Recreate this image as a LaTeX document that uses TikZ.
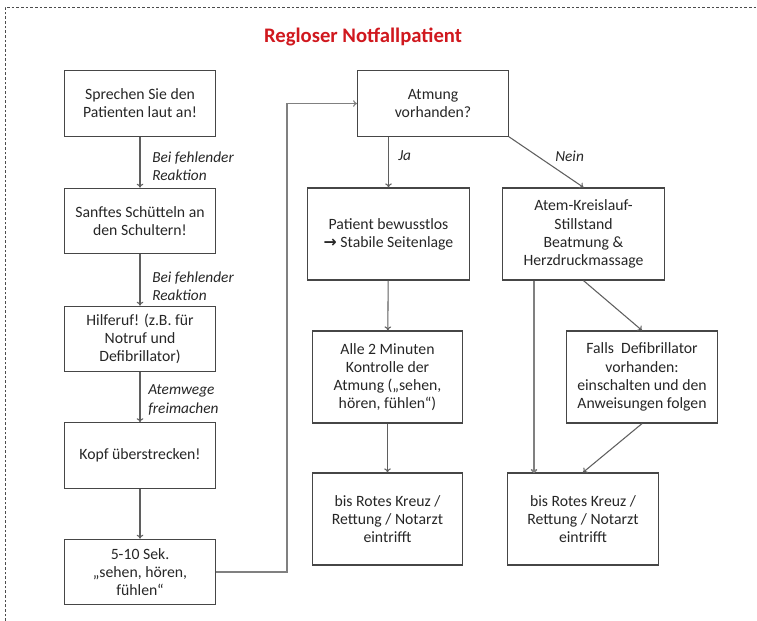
\documentclass[tikz,border=0pt]{standalone}
\usepackage{fontspec}
\setmainfont{Carlito}
\newfontfamily\arrowfont{DejaVu Sans}
\usetikzlibrary{arrows.meta}
\definecolor{titlered}{RGB}{208,24,30}
\definecolor{boxgray}{RGB}{70,70,70}
\definecolor{linegray}{RGB}{95,95,95}

\begin{document}
\begin{tikzpicture}[x=0.75pt,y=-0.75pt,
  box/.style={draw=boxgray,line width=0.9pt,align=center,inner sep=2pt,text=black!85,
    font=\fontsize{11.8}{13.6}\selectfont},
  smallbox/.style={box,minimum width=113pt,minimum height=49pt},
  bigbox/.style={box,minimum width=113pt,minimum height=69pt},
  widebox/.style={box,minimum width=122pt,minimum height=69pt},
  lbl/.style={font=\fontsize{11.5}{13.6}\selectfont\itshape,text=black!85,align=left,anchor=west,inner sep=0pt},
  arr/.style={draw=linegray,line width=0.8pt,-{To[length=3pt,width=5pt]}}]
\useasboundingbox (0,0) rectangle (757,621);
\draw[black!70,line width=0.6pt,dash pattern=on 2pt off 1.5pt] (5,621) -- (5,7) -- (757,7);

\node[font=\fontsize{15.5}{18}\selectfont\bfseries,text=titlered] (title) at (363,37) {Regloser Notfallpatient};

% linke Spalte
\node[smallbox] (A) at (140,103.5) {Sprechen Sie den\\Patienten laut an!};
\node[smallbox] (B) at (140,221) {Sanftes Schütteln an\\den Schultern!};
\node[smallbox] (C) at (140,339) {Hilferuf! (z.B. für\\Notruf und\\Defibrillator)};
\node[smallbox] (D) at (140,455.5) {Kopf überstrecken!};
\node[smallbox] (E) at (140,572) {5-10 Sek.\\„sehen, hören,\\fühlen“};

\draw[arr] (A) -- (B);
\draw[arr] (B) -- (C);
\draw[arr] (C) -- (D);
\draw[arr] (D) -- (E);
\node[lbl] (l1) at (152,166) {Bei fehlender\\Reaktion};
\node[lbl] (l2) at (152,286) {Bei fehlender\\Reaktion};
\node[lbl] (l3) at (148,400) {Atemwege\\freimachen};

% rechter Teil
\node[smallbox] (F) at (433,103.5) {Atmung\\vorhanden?};
\node[widebox] (G) at (388.5,234) {Patient bewusstlos\\{\arrowfont\bfseries →} Stabile Seitenlage};
\node[widebox] (H) at (583.5,234) {Atem-Kreislauf-\\Stillstand\\Beatmung \&\\Herzdruckmassage};
\node[bigbox] (I) at (387.5,377) {Alle 2 Minuten\\Kontrolle der\\Atmung („sehen,\\hören, fühlen“)};
\node[bigbox] (J) at (387.5,519) {bis Rotes Kreuz /\\Rettung / Notarzt\\eintrifft};
\node[bigbox] (K) at (642,377) {Falls~ Defibrillator\\vorhanden:\\einschalten und den\\Anweisungen folgen};
\node[bigbox] (L) at (583,519) {bis Rotes Kreuz /\\Rettung / Notarzt\\eintrifft};

\coordinate (turn) at (287,103.5);
\coordinate (hl) at (534,473);

\draw[arr,draw=gray] (E.east) -| (turn) -- (F.west);
\draw[arr] (F.south -| G.north) -- (G.north);
\draw[arr] (F.south east) -- (H.north);
\draw[arr] (G) -- (I);
\draw[arr] (I) -- (J);
\draw[arr,draw=gray,line width=1.2pt] (H.south -| hl) -- (hl);
\draw[arr] (H.south) -- (K.north);
\draw[arr] (K.south) -- (L.north);
\node[lbl] (ja) at (398,156) {Ja};
\node[lbl] (nein) at (555,156) {Nein};
\end{tikzpicture}
\end{document}
